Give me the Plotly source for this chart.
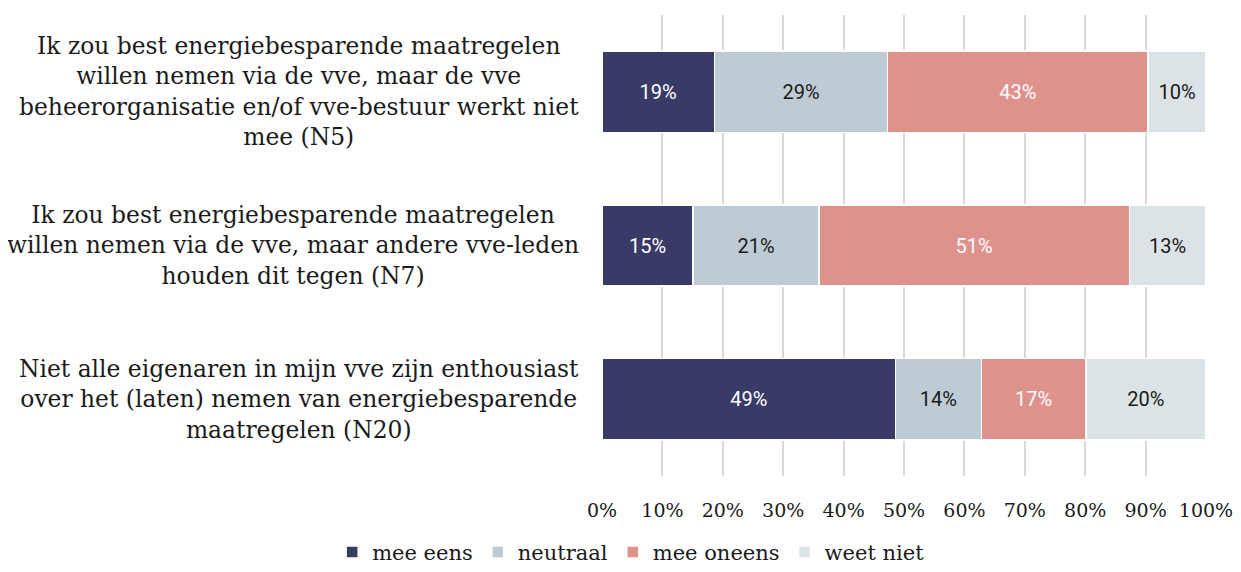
import plotly.graph_objects as go

# stellingen (van boven naar beneden)
stellingen = [
    "Ik zou best energiebesparende maatregelen<br>willen nemen via de vve, maar de vve<br>beheerorganisatie en/of vve-bestuur werkt niet<br>mee (N5)",
    "Ik zou best energiebesparende maatregelen<br>willen nemen via de vve, maar andere vve-leden<br>houden dit tegen (N7)",
    "Niet alle eigenaren in mijn vve zijn enthousiast<br>over het (laten) nemen van energiebesparende<br>maatregelen (N20)",
]
categorieen = ["N5", "N7", "N20"]

antwoorden = ["mee eens", "neutraal", "mee oneens", "weet niet"]
mee_eens = [18.6, 15.1, 48.6]
neutraal = [28.7, 20.8, 14.2]
mee_oneens = [43.1, 51.4, 17.3]
weet_niet = [9.6, 12.7, 19.9]

x_ticks = [0, 10, 20, 30, 40, 50, 60, 70, 80, 90, 100]
x_ticktext = [f"{t}%" for t in x_ticks]

KLEUREN = ["#383B66", "#BFCBD4", "#DF918C", "#DCE3E7"]
TEKSTKLEUR = ["#FFFFFF", "#1A1A1A", "#FFFFFF", "#1A1A1A"]
SERIF = "DejaVu Serif"

fig = go.Figure()
for naam, waarden, kleur, tk in zip(antwoorden, [mee_eens, neutraal, mee_oneens, weet_niet], KLEUREN, TEKSTKLEUR):
    fig.add_trace(
        go.Bar(
            y=categorieen,
            x=waarden,
            name=naam,
            orientation="h",
            marker=dict(color=kleur, line=dict(color="#FFFFFF", width=1.5)),
            texttemplate="%{x:.0f}%",
            textposition="inside",
            insidetextanchor="middle",
            textangle=0,
            textfont=dict(family="Roboto", size=20, color=tk),
        )
    )

for cat, tekst in zip(categorieen, stellingen):
    fig.add_annotation(
        x=-0.035, xref="paper", y=cat, yref="y",
        text=tekst, showarrow=False,
        xanchor="right", yanchor="middle", align="center",
        font=dict(family=SERIF, size=23.4, color="#1A1A1A"),
    )

# pagina heeft 8px body-marge, figuur daarom iets kleiner
fig.update_layout(
    barmode="stack",
    bargap=0.47,
    width=1233,
    height=564,
    paper_bgcolor="#FFFFFF",
    plot_bgcolor="#FFFFFF",
    margin=dict(l=594, r=35, t=7, b=96, autoexpand=False),
    uniformtext=dict(minsize=10, mode="show"),
    legend=dict(
        orientation="h",
        xref="container", x=0.505, xanchor="center",
        yref="container", y=0.035, yanchor="middle",
        font=dict(family=SERIF, size=21, color="#1A1A1A"),
        traceorder="normal",
        itemwidth=30,
    ),
)
fig.update_xaxes(
    range=[0, 100],
    tickvals=x_ticks,
    ticktext=x_ticktext,
    showgrid=True,
    gridcolor="#D9D9D9",
    gridwidth=1.5,
    zeroline=False,
    showline=False,
    ticks="",
    ticklabelstandoff=21,
    ticklabeloverflow="allow",
    tickfont=dict(family=SERIF, size=19, color="#1A1A1A"),
)
fig.update_yaxes(
    categoryorder="array",
    categoryarray=categorieen,
    autorange="reversed",
    showticklabels=False,
    showgrid=False,
    zeroline=False,
    showline=False,
)

fig.write_html("out.html")
